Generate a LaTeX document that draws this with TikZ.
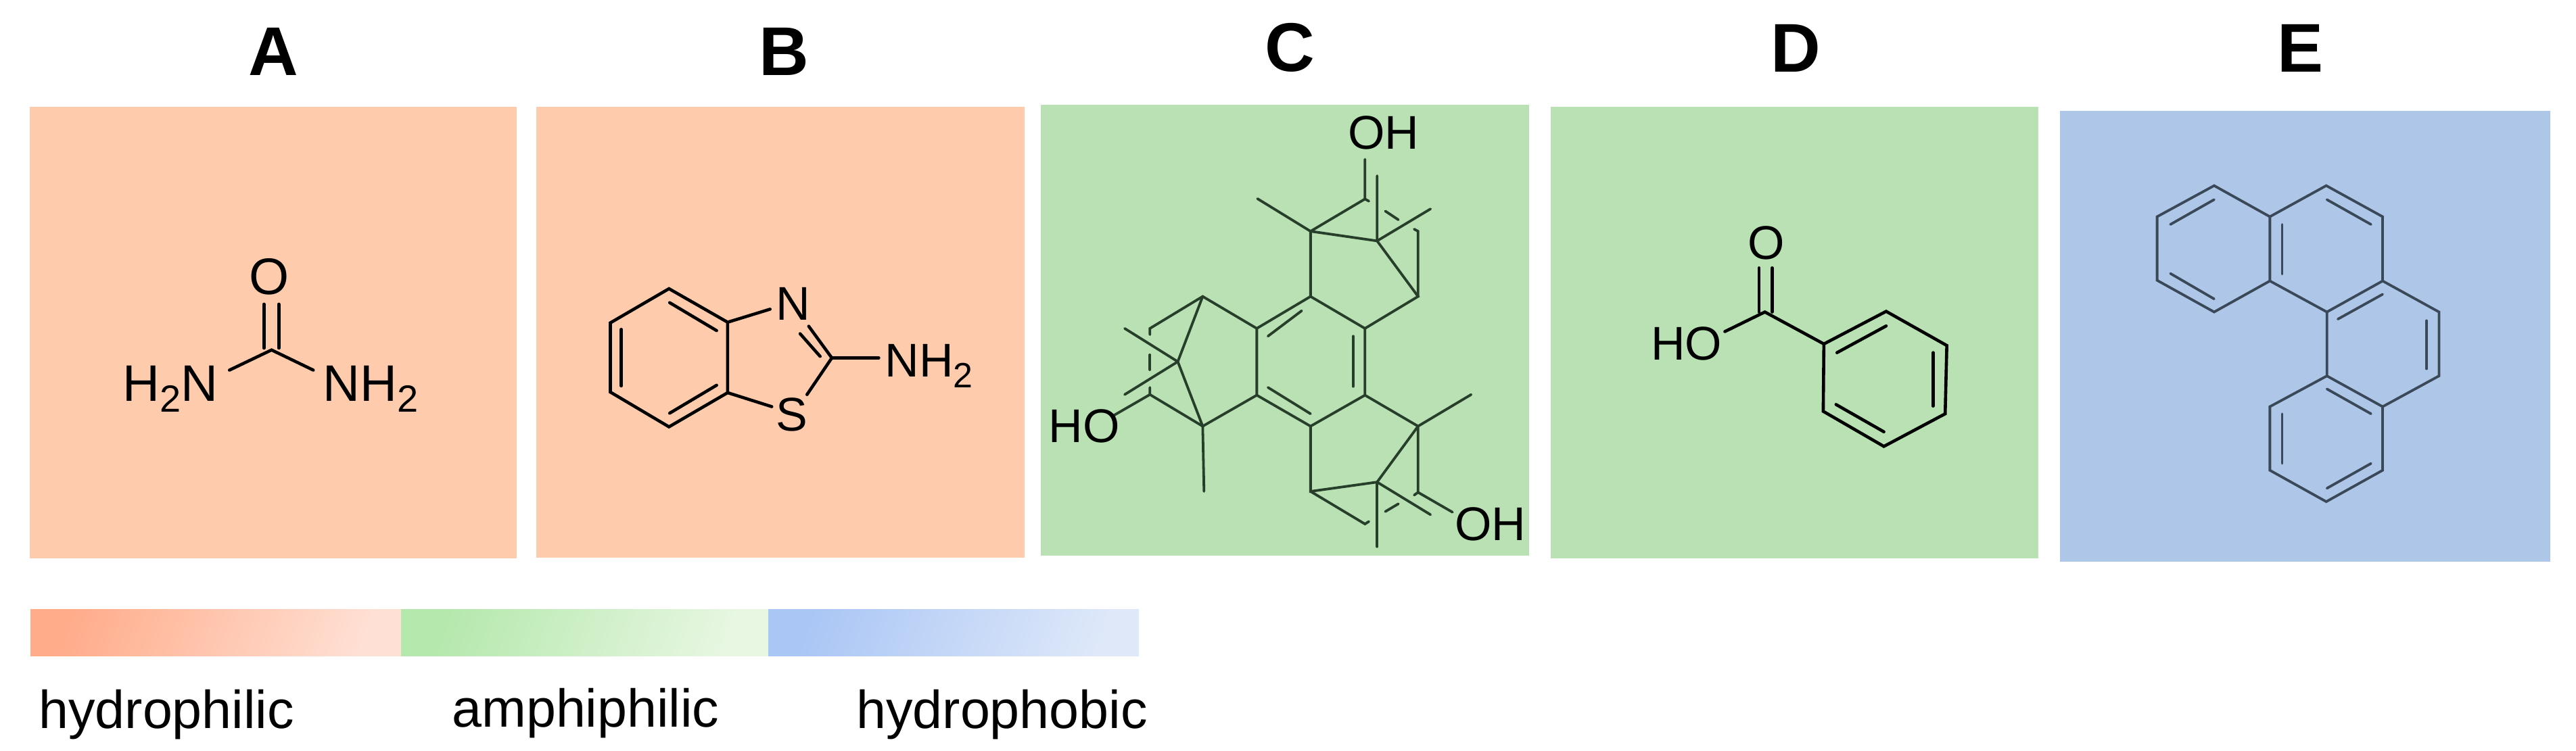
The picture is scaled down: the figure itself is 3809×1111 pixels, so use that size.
\documentclass[tikz,border=0pt]{standalone}
\usepackage{fontspec}
\setmainfont{Liberation Sans}
\newcommand{\fs}[1]{\fontsize{#1}{#1}\selectfont}
\newcommand{\subtwo}{{\fs{26}\raisebox{-8pt}{2}}}
\newcommand{\subtwoA}{{\fs{28}\raisebox{-8pt}{2}}}
\definecolor{peach}{RGB}{254,204,172}
\definecolor{leaf}{RGB}{185,225,179}
\definecolor{sky}{RGB}{174,199,232}
\definecolor{inkgreen}{RGB}{38,62,42}
\definecolor{inkblue}{RGB}{58,72,88}
\tikzset{
  head/.style={font=\bfseries\fs{51},text=black,inner sep=0pt,anchor=base},
  legend/.style={font=\fs{39.5},text=black,inner sep=0pt,anchor=base west},
  atom/.style={font=\fs{35},text=black,inner sep=0pt,anchor=base west},
  atomA/.style={font=\fs{38},text=black,inner sep=0pt,anchor=base west},
  bond/.style={draw=black,line width=2.3pt,line cap=round,line join=miter},
  bondc/.style={draw=inkgreen,line width=1.9pt,line cap=round,line join=miter},
  bonde/.style={draw=inkblue,line width=1.9pt,line cap=round,line join=miter},
}
\begin{document}
\begin{tikzpicture}[x=0.5pt,y=-0.5pt]
\useasboundingbox (0,0) rectangle (3809,1111);
\fill[white] (0,0) rectangle (3809,1111);
% panels
\path[fill=peach] (44,158) coordinate (pa1) rectangle (764,826) coordinate (pa2);
\path[fill=peach] (793,158) coordinate (pb1) rectangle (1515,825) coordinate (pb2);
\path[fill=leaf] (1539,155) coordinate (pc1) rectangle (2261,822) coordinate (pc2);
\path[fill=leaf] (2293,158) coordinate (pd1) rectangle (3014,826) coordinate (pd2);
\path[fill=sky] (3046,164) coordinate (pe1) rectangle (3771,831) coordinate (pe2);
% headings
\node[head] (hA) at (404,112) {A};
\node[head] (hB) at (1159,112) {B};
\node[head] (hC) at (1907,106) {C};
\node[head] (hD) at (2655,107) {D};
\node[head] (hE) at (3401,107) {E};
% legend
\shade[left color={rgb,255:red,255;green,172;blue,138},right color={rgb,255:red,255;green,224;blue,212},shading angle=70] (45,901) rectangle (593,970);
\shade[left color={rgb,255:red,180;green,232;blue,172},right color={rgb,255:red,232;green,247;blue,226},shading angle=70] (593,901) rectangle (1136,970);
\shade[left color={rgb,255:red,170;green,198;blue,245},right color={rgb,255:red,222;green,232;blue,249},shading angle=70] (1136,901) rectangle (1684,970);
\node[legend] (l1) at (57,1077) {hydrophilic};
\node[legend] (l2) at (668,1075) {amphiphilic};
\node[legend] (l3) at (1266,1077) {hydrophobic};
% A
\begin{scope}[shift={(0,0)},x=0.2551pt,y=-0.27105pt]
\path (787,955) coordinate (a0) (665,1010) coordinate (a1) (908,1010) coordinate (a2)
      (765,830) coordinate (a3) (765,950) coordinate (a4) (808,830) coordinate (a5) (808,950) coordinate (a6);
\draw[bond] (a1) -- (a0) -- (a2);
\draw[bond] (a3) -- (a4);
\draw[bond] (a5) -- (a6);
\node[atomA] (aO) at (722,803) {O};
\node[atomA] (aL) at (355,1095) {H\subtwoA N};
\node[atomA] (aR) at (935,1095) {NH\subtwoA};
\end{scope}
% B
\begin{scope}[shift={(780,130)},x=0.2551pt,y=-0.2296pt]
\path (410,647) coordinate (b1) (240,757) coordinate (b2) (240,980) coordinate (b3)
      (410,1092) coordinate (b4) (580,982) coordinate (b5) (580,755) coordinate (b6)
      (882,870) coordinate (b7) (703,713) coordinate (b8) (708,1027) coordinate (b9)
      (815,768) coordinate (b10) (810,988) coordinate (b11) (1018,870) coordinate (b12)
      (272,778) coordinate (i1) (272,960) coordinate (i2) (412,692) coordinate (i3) (548,782) coordinate (i4)
      (412,1048) coordinate (i5) (548,958) coordinate (i6) (848,865) coordinate (i7) (790,792) coordinate (i8);
\draw[bond] (b1) -- (b2) -- (b3) -- (b4) -- (b5) -- (b6) -- cycle;
\draw[bond] (b6) -- (b8);
\draw[bond] (b5) -- (b9);
\draw[bond] (b10) -- (b7) -- (b11);
\draw[bond] (b7) -- (b12);
\draw[bond] (i1) -- (i2);
\draw[bond] (i3) -- (i4);
\draw[bond] (i5) -- (i6);
\draw[bond] (i7) -- (i8);
\node[atom] (bN) at (720,748) {N};
\node[atom] (bS) at (720,1106) {S};
\node[atom] (bA) at (1035,930) {NH\subtwo};
\end{scope}
% C
\begin{scope}[shift={(1520,130)},x=0.24235pt,y=-0.2296pt]
\path (862,672) coordinate (c1) (1028,775) coordinate (c2) (1028,990) coordinate (c3)
      (862,1090) coordinate (c4) (698,990) coordinate (c5) (698,775) coordinate (c6)
      (835,718) coordinate (d1) (732,800) coordinate (d2) (992,800) coordinate (d3) (992,962) coordinate (d4)
      (732,965) coordinate (d5) (862,1050) coordinate (d6)
      (862,462) coordinate (u1) (700,357) coordinate (u2) (1028,358) coordinate (u3) (1065,493) coordinate (u4)
      (1065,283) coordinate (u5) (1228,390) coordinate (u6) (1190,672) coordinate (u7) (1190,462) coordinate (u8)
      (1178,455) coordinate (u9) (1130,425) coordinate (u10) (1090,397) coordinate (u11) (1040,365) coordinate (u12)
      (1028,230) coordinate (u13)
      (533,672) coordinate (l1) (372,775) coordinate (l2) (372,795) coordinate (l3) (372,860) coordinate (l4)
      (372,908) coordinate (l5) (372,965) coordinate (l6) (372,988) coordinate (l7) (533,1090) coordinate (l8)
      (262,1055) coordinate (l9) (457,882) coordinate (l10) (295,775) coordinate (l11) (295,988) coordinate (l12)
      (537,1300) coordinate (l13)
      (862,1300) coordinate (r1) (1065,1270) coordinate (r2) (1028,1405) coordinate (r3) (1040,1397) coordinate (r4)
      (1090,1365) coordinate (r5) (1130,1340) coordinate (r6) (1178,1312) coordinate (r7) (1190,1303) coordinate (r8)
      (1190,1090) coordinate (r9) (1352,988) coordinate (r10) (1065,1478) coordinate (r11) (1228,1375) coordinate (r12)
      (1295,1367) coordinate (r13);
\draw[bondc] (c1) -- (c2) -- (c3) -- (c4) -- (c5) -- (c6) -- cycle;
\draw[bondc] (d1) -- (d2);
\draw[bondc] (d3) -- (d4);
\draw[bondc] (d5) -- (d6);
% upper unit
\draw[bondc] (c1) -- (u1) -- (u2);
\draw[bondc] (u1) -- (u3) -- (u13);
\draw[bondc] (u1) -- (u4) -- (u5);
\draw[bondc] (u4) -- (u6);
\draw[bondc] (u4) -- (u7) -- (c2);
\draw[bondc] (u7) -- (u8) -- (u9);
\draw[bondc] (u10) -- (u11);
\draw[bondc] (u12) -- (u3);
% left unit
\draw[bondc] (c6) -- (l1) -- (l2) -- (l3);
\draw[bondc] (l4) -- (l5);
\draw[bondc] (l6) -- (l7) -- (l8) -- (c5);
\draw[bondc] (l7) -- (l9);
\draw[bondc] (l1) -- (l10) -- (l8) -- (l13);
\draw[bondc] (l10) -- (l11);
\draw[bondc] (l10) -- (l12);
% lower unit
\draw[bondc] (c4) -- (r1) -- (r2) -- (r9) -- (c3);
\draw[bondc] (r1) -- (r3) -- (r4);
\draw[bondc] (r5) -- (r6);
\draw[bondc] (r7) -- (r8) -- (r9) -- (r10);
\draw[bondc] (r2) -- (r11);
\draw[bondc] (r2) -- (r12);
\draw[bondc] (r8) -- (r13);
\node[atom] (cO1) at (975,198) {OH};
\node[atom] (cO2) at (62,1143) {HO};
\node[atom] (cO3) at (1302,1458) {OH};
\end{scope}
% D
\begin{scope}[shift={(2280,130)},x=0.24235pt,y=-0.2296pt]
\path (860,825) coordinate (e1) (1050,720) coordinate (e2) (1235,830) coordinate (e3)
      (1230,1050) coordinate (e4) (1043,1155) coordinate (e5) (858,1042) coordinate (e6)
      (680,722) coordinate (e7) (558,785) coordinate (e8)
      (662,580) coordinate (e9) (662,722) coordinate (e10) (702,580) coordinate (e11) (702,722) coordinate (e12)
      (900,853) coordinate (j1) (1050,767) coordinate (j2) (1193,853) coordinate (j3) (1193,1025) coordinate (j4)
      (897,1020) coordinate (j5) (1043,1108) coordinate (j6);
\draw[bond] (e1) -- (e2) -- (e3) -- (e4) -- (e5) -- (e6) -- cycle;
\draw[bond] (e1) -- (e7) -- (e8);
\draw[bond] (e9) -- (e10);
\draw[bond] (e11) -- (e12);
\draw[bond] (j1) -- (j2);
\draw[bond] (j3) -- (j4);
\draw[bond] (j5) -- (j6);
\node[atom] (dO) at (627,553) {O};
\node[atom] (dH) at (332,877) {HO};
\end{scope}
% E
\begin{scope}[shift={(3040,130)},x=0.2452pt,y=-0.2296pt]
\path (477,315) coordinate (f1) (305,415) coordinate (f2) (305,620) coordinate (f3) (477,722) coordinate (f4)
      (645,622) coordinate (f5) (645,415) coordinate (f6) (815,315) coordinate (f7) (985,415) coordinate (f8)
      (985,622) coordinate (f9) (817,722) coordinate (f10) (1155,722) coordinate (f11) (1155,928) coordinate (f12)
      (985,1027) coordinate (f13) (817,928) coordinate (f14) (645,1027) coordinate (f15) (645,1232) coordinate (f16)
      (815,1333) coordinate (f17) (985,1232) coordinate (f18)
      (345,440) coordinate (k1) (477,360) coordinate (k2) (345,598) coordinate (k3) (477,680) coordinate (k4)
      (682,440) coordinate (k5) (682,600) coordinate (k6) (817,360) coordinate (k7) (950,440) coordinate (k8)
      (850,745) coordinate (k9) (985,665) coordinate (k10) (1117,750) coordinate (k11) (1117,905) coordinate (k12)
      (817,970) coordinate (k13) (950,1050) coordinate (k14) (682,1050) coordinate (k15) (682,1210) coordinate (k16)
      (817,1290) coordinate (k17) (950,1210) coordinate (k18);
\draw[bonde] (f1) -- (f2) -- (f3) -- (f4) -- (f5) -- (f6) -- cycle;
\draw[bonde] (f6) -- (f7) -- (f8) -- (f9) -- (f10) -- (f5);
\draw[bonde] (f9) -- (f11) -- (f12) -- (f13) -- (f14) -- (f10);
\draw[bonde] (f14) -- (f15) -- (f16) -- (f17) -- (f18) -- (f13);
\draw[bonde] (k1) -- (k2);
\draw[bonde] (k3) -- (k4);
\draw[bonde] (k5) -- (k6);
\draw[bonde] (k7) -- (k8);
\draw[bonde] (k9) -- (k10);
\draw[bonde] (k11) -- (k12);
\draw[bonde] (k13) -- (k14);
\draw[bonde] (k15) -- (k16);
\draw[bonde] (k17) -- (k18);
\end{scope}
\end{tikzpicture}
\end{document}
